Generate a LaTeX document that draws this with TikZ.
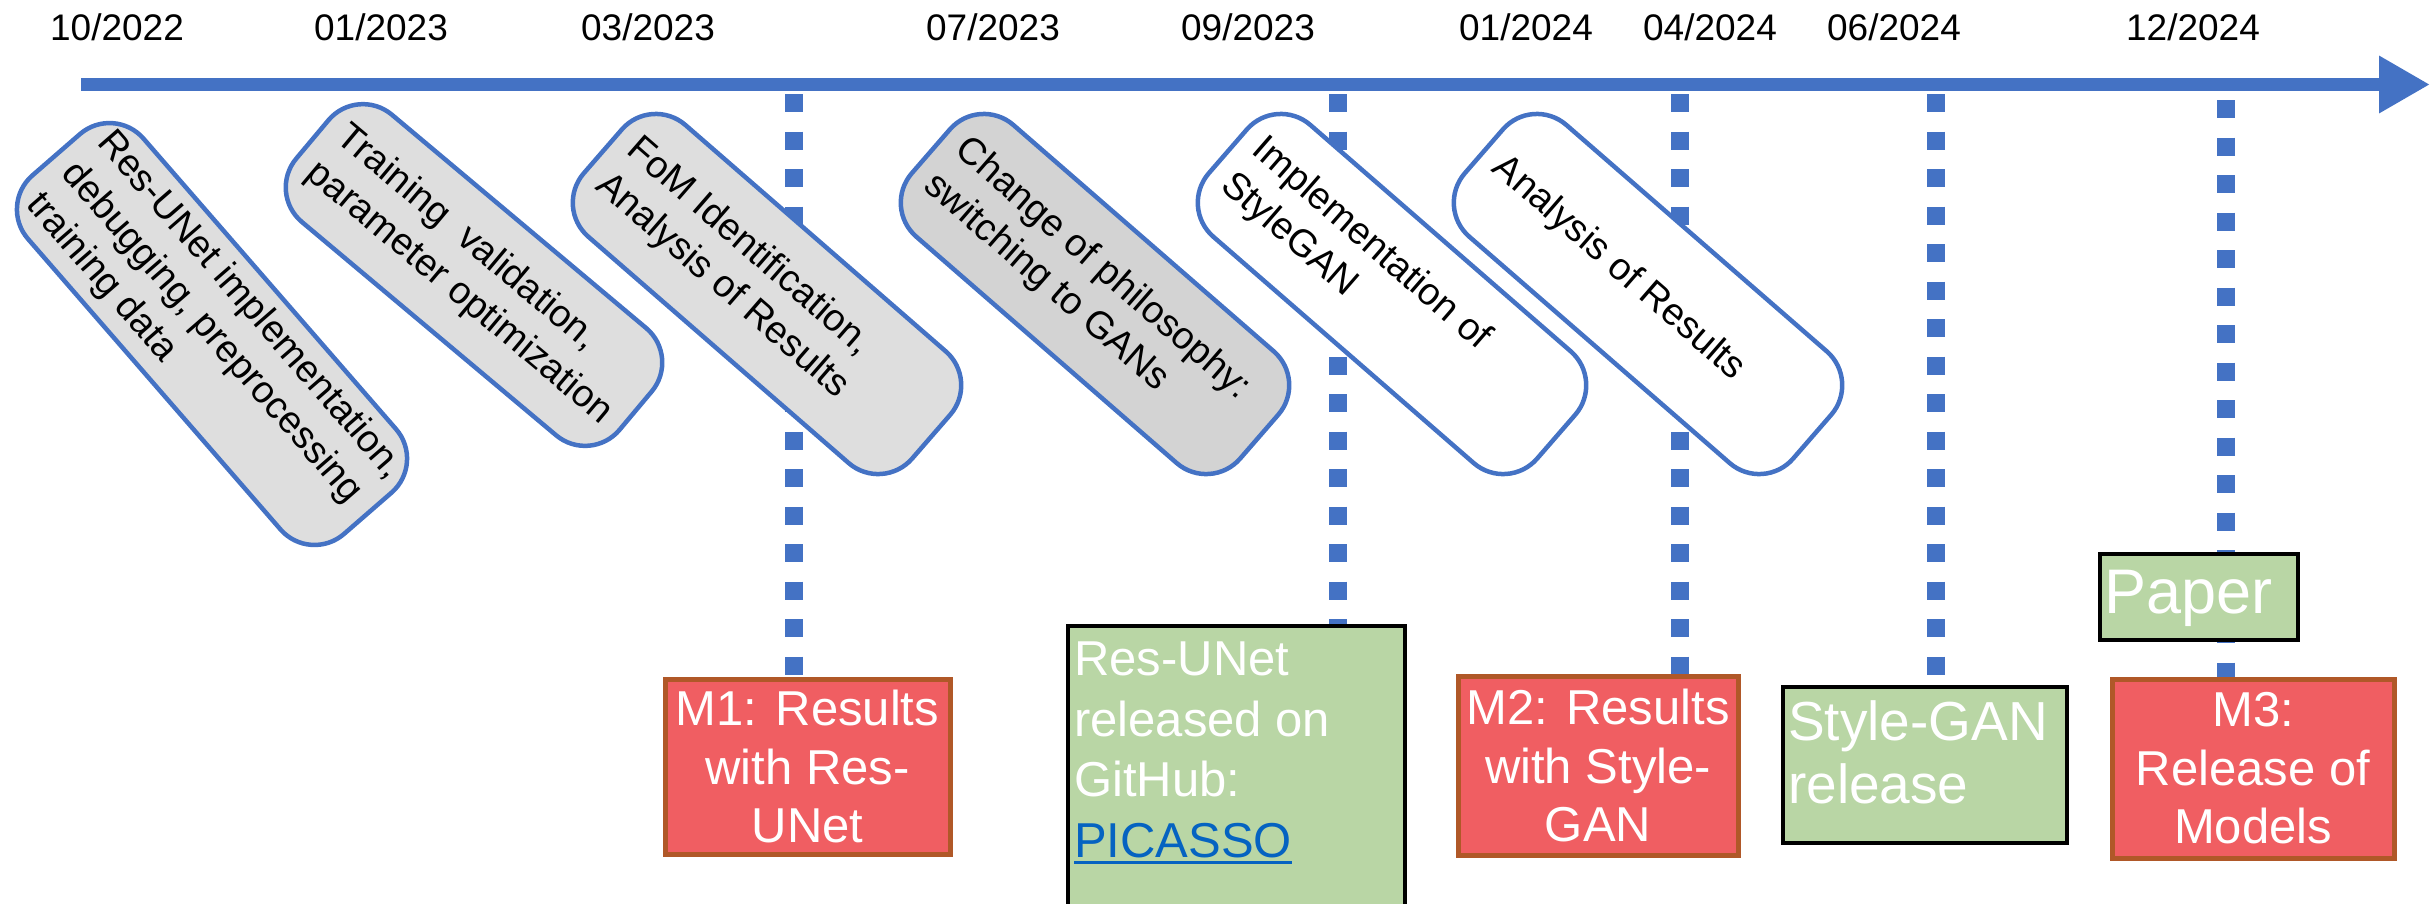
\documentclass[tikz,border=0pt]{standalone}
\usepackage{fontspec}
\setmainfont{Liberation Sans}
\usetikzlibrary{arrows.meta,calc,backgrounds}
\definecolor{tlblue}{RGB}{68,114,196}
\definecolor{grayA}{RGB}{222,222,222}
\definecolor{grayB}{RGB}{211,211,211}
\definecolor{redfill}{RGB}{240,94,98}
\definecolor{redline}{RGB}{176,88,40}
\definecolor{greenfill}{RGB}{185,214,165}
\definecolor{linkblue}{RGB}{5,99,193}
\newcommand\ulink[1]{\setbox0\hbox{#1}\rlap{\rule[-7pt]{\wd0}{3.5pt}}\box0}
\begin{document}
\begin{tikzpicture}[x=1pt,y=-1pt,
  datelbl/.style={font=\fontsize{37}{44}\selectfont, inner sep=0pt},
  rbox/.style={draw=tlblue, line width=4.5pt, rounded corners=45pt, inner sep=0pt},
  rtxt/.style={font=\fontsize{38}{47}\selectfont, align=left, inner sep=0pt},
  dotline/.style={draw=tlblue, line width=18pt, dash pattern=on 18pt off 19.5pt},
  mbox/.style={draw=redline, fill=redfill, line width=5pt, text=white, align=center, font=\fontsize{49}{58.5}\selectfont, inner sep=0pt},
  gbox/.style={draw=black, fill=greenfill, line width=3.5pt, inner sep=0pt},
  gtxt/.style={text=white, align=left, inner sep=0pt, anchor=north west},
]
\useasboundingbox (0,0) rectangle (2435,903);

% timeline arrow
\coordinate (a0) at (81,84.5);
\coordinate (a1) at (2430,84.5);
\draw[tlblue, line width=13pt, -{Triangle[length=51pt,width=54pt]}] (a0) -- (a1);

% dates
\node[datelbl] (d1) at (117,27) {10/2022};
\node[datelbl] (d2) at (381,27) {01/2023};
\node[datelbl] (d3) at (648,27) {03/2023};
\node[datelbl] (d4) at (993,27) {07/2023};
\node[datelbl] (d5) at (1248,27) {09/2023};
\node[datelbl] (d6) at (1526,27) {01/2024};
\node[datelbl] (d7) at (1710,27) {04/2024};
\node[datelbl] (d8) at (1894,27) {06/2024};
\node[datelbl] (d9) at (2193,27) {12/2024};

% rotated activity boxes
\node[rbox, fill=grayA, minimum width=475pt, minimum height=153pt, rotate=-49] (b1) at (212,334) {};
\node[rtxt, rotate=-49, anchor=west] (b1t) at ($(b1.west)!20pt!(b1.east)$) {Res-UNet implementation,\\debugging, preprocessing\\training data};

\node[rbox, fill=grayA, minimum width=422pt, minimum height=140pt, rotate=-40] (b2) at (474,275) {};
\node[rtxt, rotate=-40, anchor=west] (b2t) at ($(b2.west)!20pt!(b2.east)$) {Training\ \ validation,\\parameter optimization};

\node[rbox, fill=grayA, minimum width=435pt, minimum height=148pt, rotate=-41] (b3) at (767,294) {};
\node[rtxt, rotate=-41, anchor=west] (b3t) at ($(b3.west)!20pt!(b3.east)$) {FoM Identification,\\Analysis of Results};

\node[rbox, fill=grayB, minimum width=435pt, minimum height=148pt, rotate=-41] (b4) at (1095,294) {};
\node[rtxt, rotate=-41, anchor=west] (b4t) at ($(b4.west)!20pt!(b4.east)$) {Change of philosophy:\\switching to GANs};

\node[rbox, fill=white, minimum width=435pt, minimum height=148pt, rotate=-41] (b5) at (1392,294) {};
\node[rtxt, rotate=-41, anchor=west] (b5t) at ($(b5.west)!20pt!(b5.east)$) {Implementation of\\StyleGAN};

\node[rbox, fill=white, minimum width=435pt, minimum height=148pt, rotate=-41] (b6) at (1648,294) {};
\node[rtxt, rotate=-41, anchor=west] (b6t) at ($(b6.west)!20pt!(b6.east)$) {Analysis of Results};

% milestone / release boxes
\node[mbox, minimum width=285pt, minimum height=175pt] (m1) at (807.5,766.5) {M1: Results\\with Res-\\UNet};

\node[gbox, minimum width=337pt, minimum height=289pt] (g1) at (1236.5,770.5) {};
\node[gtxt, font=\fontsize{49}{60.5}\selectfont] (g1t) at (1074,642) {Res-UNet\\released on\\GitHub:\\\textcolor{linkblue}{\ulink{PICASSO}}};

\node[mbox, minimum width=280pt, minimum height=179pt] (m2) at (1598,765.5) {M2: Results\\with Style-\\GAN};

\node[gbox, minimum width=284pt, minimum height=156pt] (g2) at (1925,765) {};
\node[gtxt, font=\fontsize{55}{63}\selectfont] (g2t) at (1788,700) {Style-GAN\\release};

\node[gbox, minimum width=198pt, minimum height=86pt] (pp) at (2199,597) {};
\node[gtxt, font=\fontsize{63}{72}\selectfont] (ppt) at (2104,570) {Paper};

\node[mbox, minimum width=282pt, minimum height=179pt] (m3) at (2253,768.5) {M3:\\Release of\\Models};

% dotted drop lines
\coordinate (p1) at (794,94);
\coordinate (p2) at (1338,94);
\coordinate (p3) at (1680,94);
\coordinate (p4) at (1936,94);
\coordinate (p5) at (2226,100);
\begin{pgfonlayer}{background}
\draw[dotline] (p1) -- (p1 |- m1.north);
\draw[dotline] (p2) -- (p2 |- g1.north);
\draw[dotline] (p3) -- (p3 |- m2.north);
\draw[dotline] (p4) -- (p4 |- g2.north);
\draw[dotline] (p5) -- (p5 |- m3.north);
\end{pgfonlayer}
\end{tikzpicture}
\end{document}
